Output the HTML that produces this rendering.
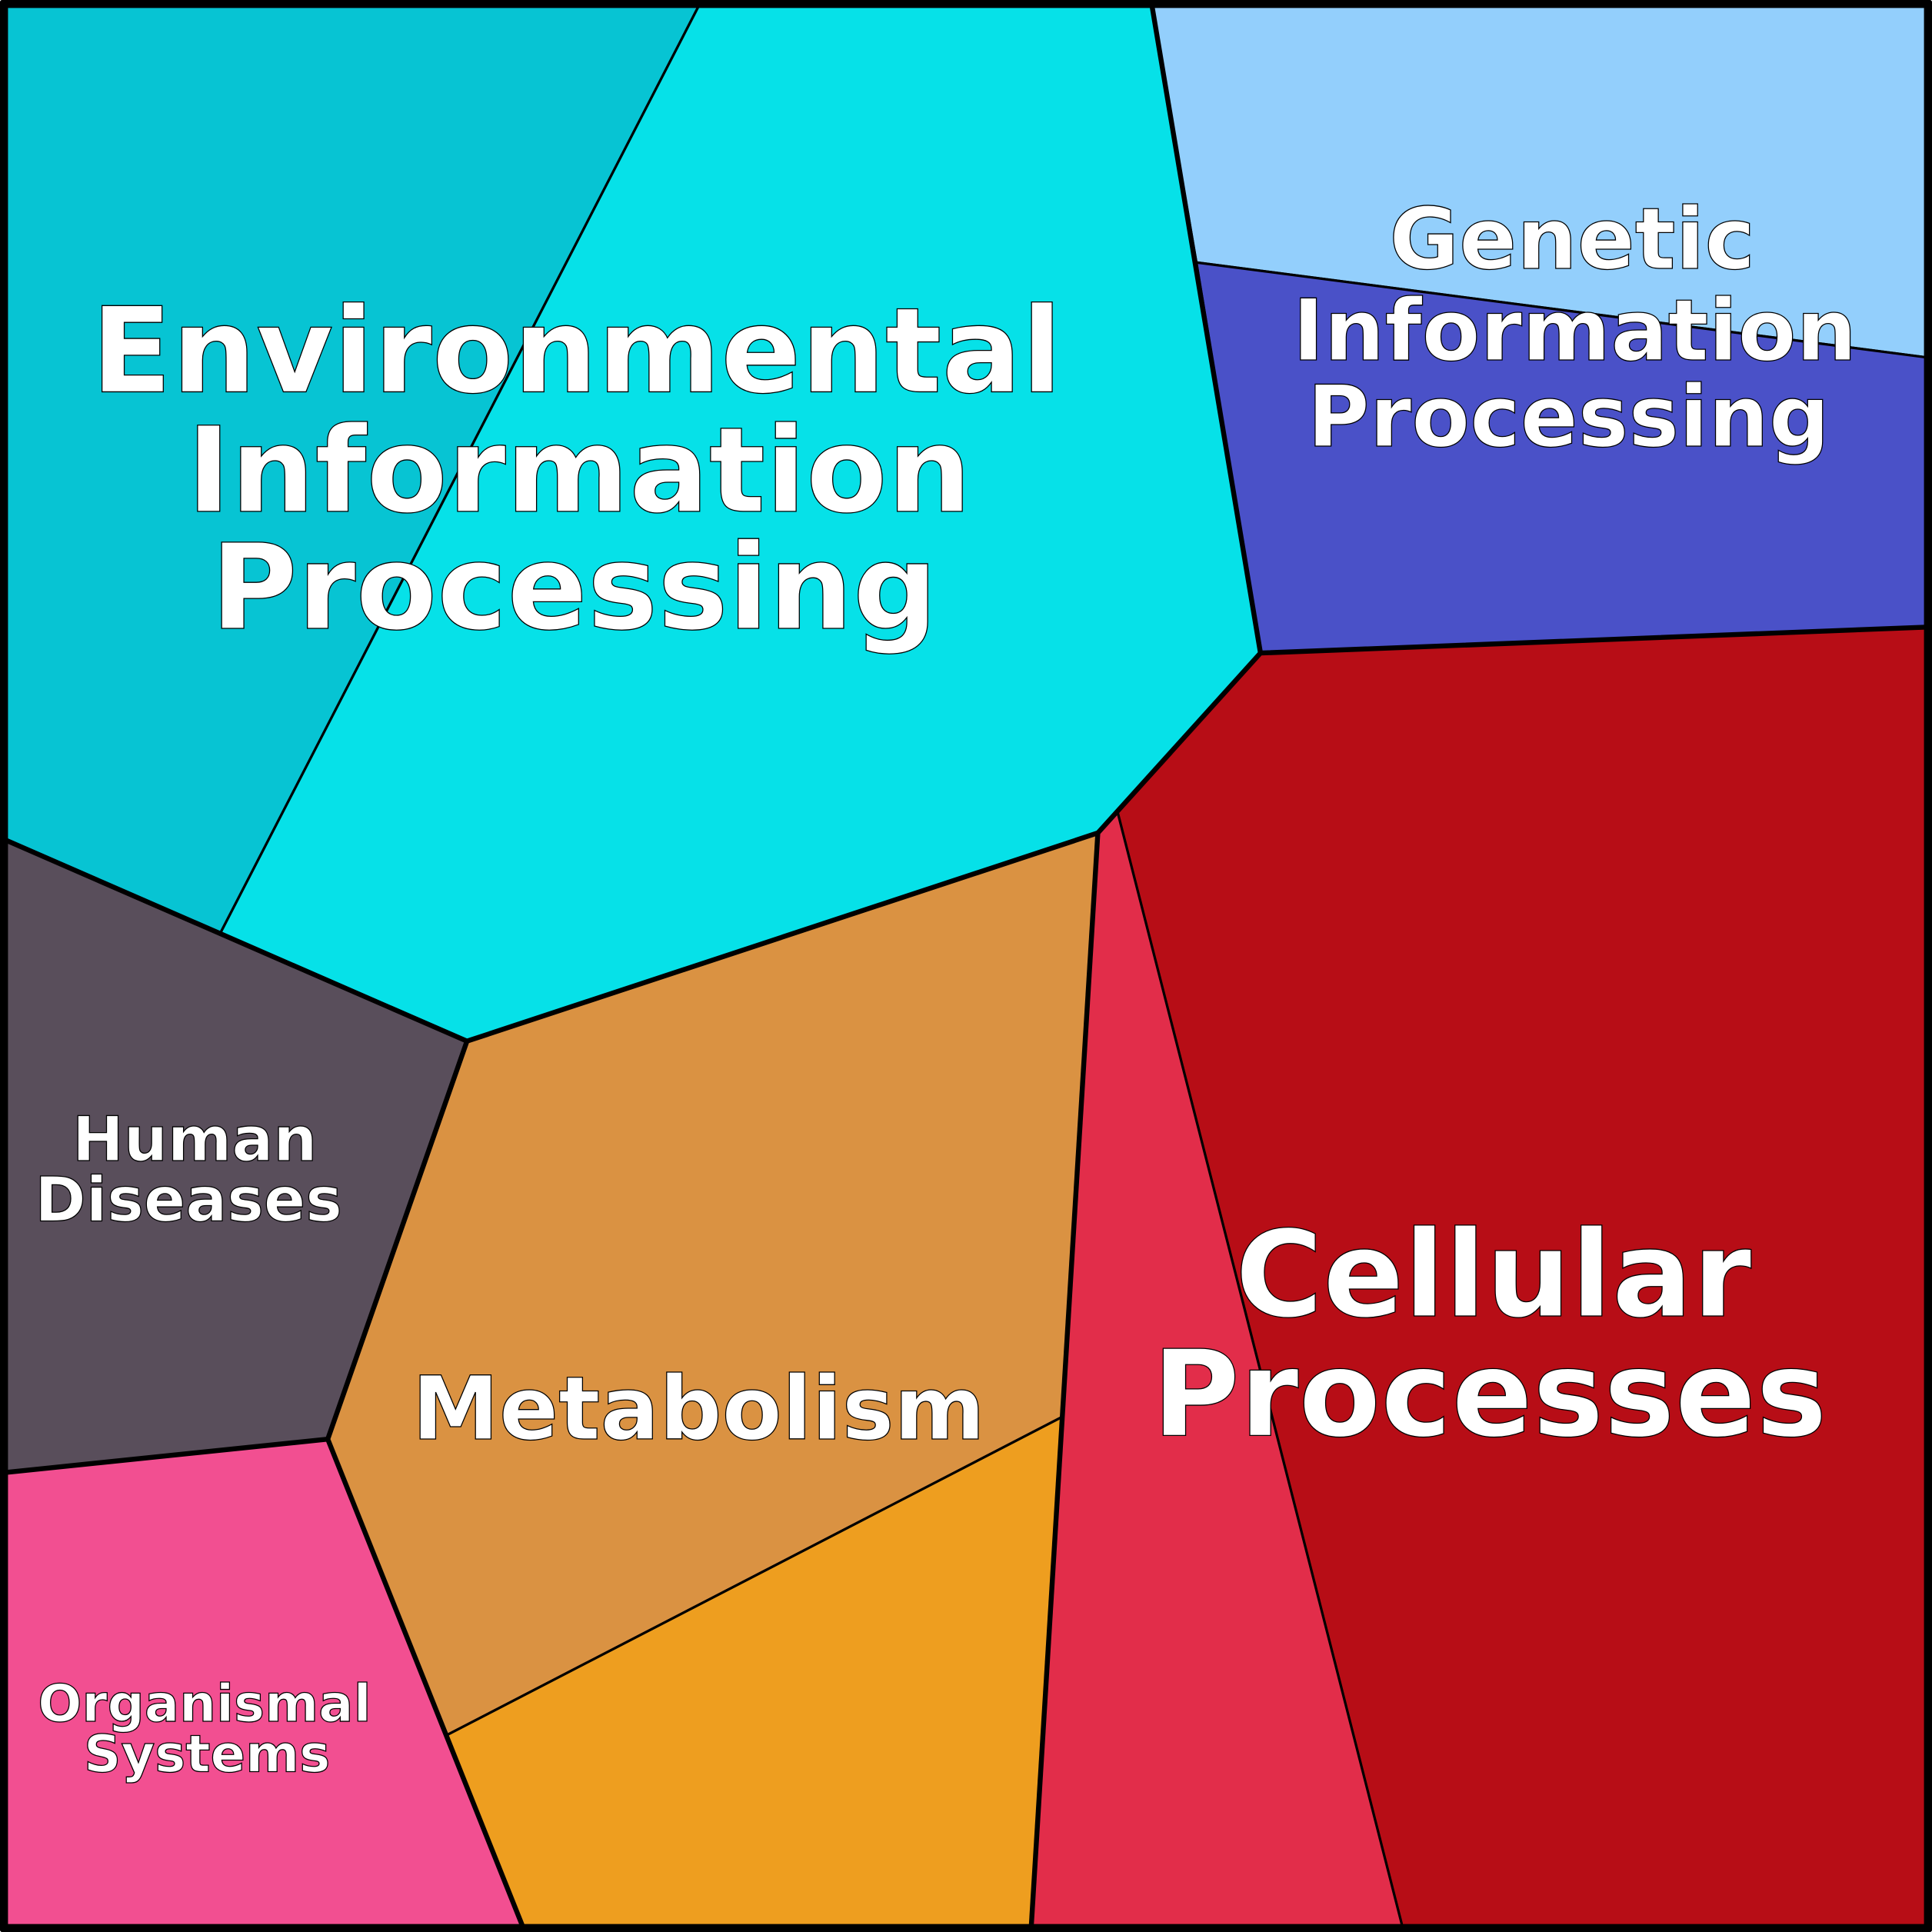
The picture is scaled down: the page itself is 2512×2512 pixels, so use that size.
<!DOCTYPE html>
<html><head><style>html,body{margin:0;padding:0;background:#fff}svg{display:block}</style></head>
<body>
<svg width="2512" height="2512" viewBox="0 0 1568 1568" xmlns="http://www.w3.org/2000/svg">
<g stroke="#000" stroke-width="2" stroke-linejoin="round">
<polygon fill="#07c4d3" points="5,5 567,5 179,757 5,682"/>
<polygon fill="#06e1e8" points="567,5 935,5 1023,530 891,676 379,845 179,757"/>
<polygon fill="#93cffc" points="935,5 1563,5 1563,290 971,213"/>
<polygon fill="#4a51c8" points="971,213 1563,290 1563,509 1023,530"/>
<polygon fill="#b70d16" points="891,676 1023,530 1563,509 1563,1563 1138,1563 907,659"/>
<polygon fill="#e22d4a" points="891,676 907,659 1138,1563 837,1563 862,1150"/>
<polygon fill="#da9242" points="379,845 891,676 862,1150 363,1408 266,1168"/>
<polygon fill="#ee9e1f" points="363,1408 862,1150 837,1563 424,1563"/>
<polygon fill="#594e5b" points="5,682 179,757 379,845 266,1168 5,1195"/>
<polygon fill="#f24f91" points="5,1195 266,1168 424,1563 5,1563"/>
</g>
<g fill="none" stroke="#000" stroke-width="4" stroke-linejoin="round">
<polyline points="5,682 379,845 891,676 1023,530 1563,509"/>
<polyline points="935,5 1023,530"/>
<polyline points="891,676 837,1563"/>
<polyline points="379,845 266,1168 424,1563"/>
<polyline points="5,1195 266,1168"/>
<rect x="3" y="3" width="1562" height="1562" stroke-width="7"/>
</g>
<g font-family="'DejaVu Sans','Liberation Sans',sans-serif" font-weight="bold" fill="#fff" stroke="#000" stroke-width="0.8" text-anchor="middle">
<text font-size="96" x="468" y="318">Environmental</text>
<text font-size="96" x="470" y="415">Information</text>
<text font-size="96" x="466" y="510">Processing</text>
<text font-size="69" x="1276" y="218">Genetic</text>
<text font-size="69" x="1278" y="292">Information</text>
<text font-size="69" x="1273" y="362">Processing</text>
<text font-size="50" x="158" y="942">Human</text>
<text font-size="50" x="153" y="991">Diseases</text>
<text font-size="71" x="567" y="1168">Metabolism</text>
<text font-size="97" x="1212" y="1068">Cellular</text>
<text font-size="97" x="1209" y="1165">Processes</text>
<text font-size="42" x="166" y="1397">Organismal</text>
<text font-size="42" x="168" y="1438">Systems</text>
</g>
</svg>
</body></html>
